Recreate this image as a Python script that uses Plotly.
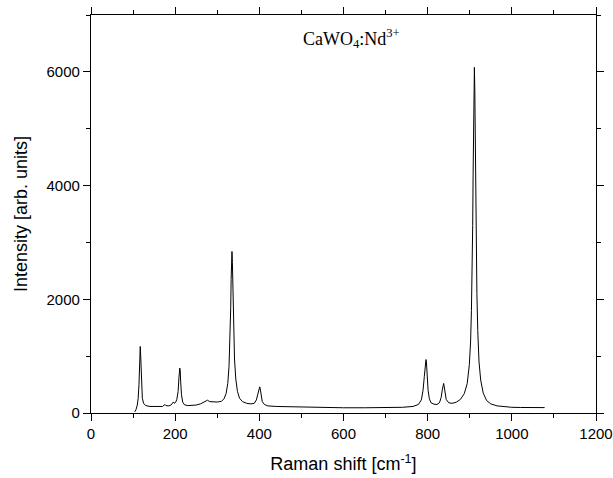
import plotly.graph_objects as go

# Raman spectrum of CaWO4:Nd3+ (shift in cm^-1, intensity in arb. units)
raman_shift = [
    104, 107, 110, 112, 114, 115, 116, 117, 118, 119, 120, 122, 125, 130, 140,
    150, 160, 170, 174, 176, 178, 185, 190, 194, 196, 198, 201, 204, 207, 209,
    211, 212, 213, 215, 218, 222, 230, 240, 250, 260, 268, 273, 277, 282, 290,
    300, 310, 316, 321, 325, 328, 330, 332, 333, 334, 335, 336, 337, 339, 341,
    344, 348, 353, 360, 370, 380, 388, 393, 396, 399, 401, 402, 404, 407, 412,
    420, 440, 470, 500, 550, 600, 650, 700, 740, 765, 778, 785, 789, 792, 794,
    796, 797, 799, 801, 804, 808, 815, 822, 828, 832, 835, 837, 838, 839, 841,
    844, 850, 858, 868, 878, 887, 894, 899, 902, 904, 906, 907, 908, 909, 910,
    911, 912, 913, 914, 915, 917, 919, 922, 926, 932, 940, 950, 965, 980, 1000,
    1020, 1040, 1060, 1078,
]
intensity = [
    20, 60, 140, 250, 500, 780, 1080, 1170, 1020, 720, 470, 260, 170, 130, 115,
    112, 110, 115, 140, 150, 130, 125, 140, 180, 195, 170, 185, 240, 380, 620,
    790, 740, 560, 320, 190, 145, 130, 130, 140, 160, 190, 220, 225, 200, 195,
    193, 205, 250, 340, 520, 820, 1200, 1850, 2350, 2750, 2840, 2650, 2250, 1450, 950,
    600, 380, 260, 200, 170, 160, 170, 230, 320, 430, 460, 430, 320, 200, 150,
    125, 115, 110, 100, 95, 92, 92, 95, 100, 115, 150, 230, 400, 640, 830,
    940, 900, 620, 400, 250, 180, 155, 150, 180, 270, 420, 510, 520, 480, 350,
    240, 180, 170, 190, 240, 340, 520, 850, 1250, 1800, 2600, 3300, 4200, 5100, 5800,
    6080, 5700, 4800, 3900, 3100, 2100, 1450, 900, 580, 350, 220, 160, 125, 110, 100,
    97, 95, 95, 95,
]

x_ticks = [0, 200, 400, 600, 800, 1000, 1200]
y_ticks = [0, 2000, 4000, 6000]

sans = "Liberation Sans, Arial, sans-serif"
serif = "Liberation Serif, Times New Roman, serif"

fig = go.Figure()
fig.add_trace(go.Scatter(
    x=raman_shift, y=intensity, mode="lines",
    line=dict(color="black", width=1),
    showlegend=False,
))

axis_common = dict(
    showline=True, linecolor="black", linewidth=1.3, mirror="allticks",
    ticks="outside", ticklen=7, tickwidth=1.2, tickcolor="black",
    showgrid=False, zeroline=False, automargin=False,
    tickfont=dict(family=sans, size=15, color="black"),
)

fig.update_xaxes(
    range=[0, 1200], tickvals=x_ticks,
    minor=dict(dtick=100, ticks="outside", ticklen=4, tickwidth=1.2, tickcolor="black"),
    title=dict(text="Raman shift [cm<sup>-1</sup>]", font=dict(family=sans, size=18, color="black"),
               standoff=16),
    **axis_common,
)
fig.update_yaxes(
    range=[0, 7000], tickvals=y_ticks,
    minor=dict(dtick=1000, ticks="outside", ticklen=4, tickwidth=1.2, tickcolor="black"),
    title=dict(text="Intensity [arb. units]", font=dict(family=sans, size=18, color="black"),
               standoff=14),
    **axis_common,
)

fig.add_annotation(
    x=620, y=6590, xref="x", yref="y",
    text="CaWO<sub>4</sub>:Nd<sup>3+</sup>", showarrow=False,
    font=dict(family=serif, size=18, color="black"),
)

fig.update_layout(
    width=613, height=478,
    margin=dict(l=91, r=17, t=15, b=65),
    paper_bgcolor="white", plot_bgcolor="white",
)

fig.write_html("out.html")
